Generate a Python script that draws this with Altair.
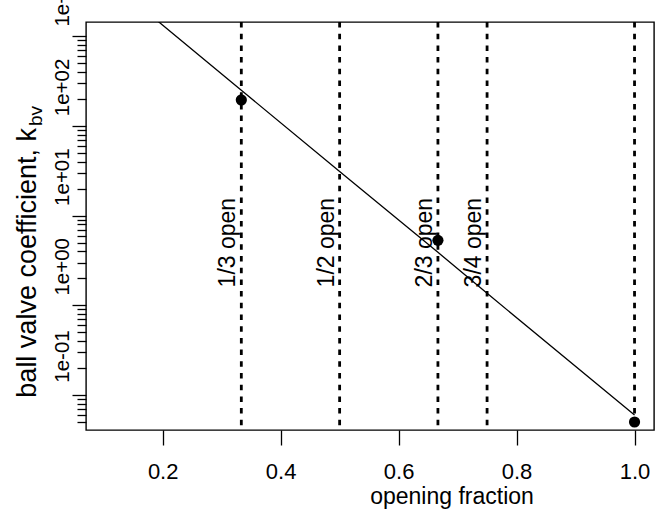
import altair as alt
import pandas as pd

# ---- data ----
frac_points = [1/3, 2/3, 1.0]
k_points = [195, 5.3, 0.05]

line_frac = [0.18, 1/3, 0.5, 2/3, 0.75, 1.0]
line_k = [1710, 250, 31, 3.9, 1.36, 0.06]

vline_frac = [1/3, 1/2, 2/3, 3/4, 1.0]

label_frac = [1/3, 1/2, 2/3, 3/4]
label_k = [5, 5, 5, 5]
label_text = ["1/3 open", "1/2 open", "2/3 open", "3/4 open"]

x_ticks = [0.2, 0.4, 0.6, 0.8, 1.0]
y_major = [0.1, 1, 10, 100, 1000]
y_major_labels = ["1e-01", "1e+00", "1e+01", "1e+02", "1e+03"]
y_minor = [0.05, 0.06, 0.07, 0.08, 0.09,
           0.2, 0.3, 0.4, 0.5, 0.6, 0.7, 0.8, 0.9,
           2, 3, 4, 5, 6, 7, 8, 9,
           20, 30, 40, 50, 60, 70, 80, 90,
           200, 300, 400, 500, 600, 700, 800, 900]

x_domain = [0.070, 1.033]
y_domain = [0.0407, 1443]

FONT = "Liberation Sans"
FS = 22
W, H = 568, 408

points_df = pd.DataFrame({"frac": frac_points, "k": k_points})
line_df = pd.DataFrame({"frac": line_frac, "k": line_k})
vline_df = pd.DataFrame({"frac": vline_frac})
label_df = pd.DataFrame({"frac": label_frac, "k": label_k, "txt": label_text})

xs = alt.Scale(domain=x_domain, nice=False, zero=False)
ys = alt.Scale(type="log", domain=y_domain, nice=False)

major_test = "indexof([" + ",".join(str(v) for v in y_major) + "], datum.value) >= 0"
label_expr = " : ".join(f"datum.value == {v} ? '{l}'" for v, l in zip(y_major, y_major_labels)) + " : ''"

x_axis = alt.Axis(values=x_ticks, format=".1f", title=None, grid=False, domain=False,
                  tickSize=15, tickColor="black", tickWidth=1.3,
                  labelFont=FONT, labelFontSize=FS, labelColor="black",
                  labelBaseline="alphabetic", labelPadding=33, labelFlush=False,
                  labelOverlap=False)

y_axis = alt.Axis(values=sorted(y_major + y_minor), labelExpr=label_expr, title=None,
                  grid=False, domain=False,
                  tickSize={"condition": {"test": major_test, "value": 14}, "value": 9},
                  tickColor="black", tickWidth=1.3,
                  labelFont=FONT, labelFontSize=20.5, labelColor="black",
                  labelAngle=270, labelAlign="center", labelBaseline="alphabetic",
                  labelOffset=-39, labelPadding=4, labelOverlap=False, labelFlush=False)

base_x = alt.X("frac:Q", scale=xs, axis=x_axis)
base_y = alt.Y("k:Q", scale=ys, axis=y_axis)

line = alt.Chart(line_df).mark_line(color="black", strokeWidth=1.3, clip=True).encode(
    x=base_x, y=base_y)

vlines = alt.Chart(vline_df).mark_rule(color="black", strokeWidth=2.8,
                                       strokeDash=[5.5, 6.2]).encode(
    x=alt.X("frac:Q", scale=xs), y=alt.value(0), y2=alt.value(H))

pts = alt.Chart(points_df).mark_point(filled=True, shape="circle", size=125,
                                      color="black", opacity=1).encode(
    x=alt.X("frac:Q", scale=xs), y=alt.Y("k:Q", scale=ys))

labels = alt.Chart(label_df).mark_text(angle=270, align="center", baseline="alphabetic",
                                       dy=-6, font=FONT, fontSize=23, color="black").encode(
    x=alt.X("frac:Q", scale=xs), y=alt.Y("k:Q", scale=ys), text="txt:N")

xtitle = alt.Chart(pd.DataFrame({"t": ["opening fraction"]})).mark_text(
    align="center", baseline="alphabetic", font=FONT, fontSize=23, color="black").encode(
    x=alt.value(366), y=alt.value(74 + H), text="t:N")

ytitle = alt.Chart(pd.DataFrame({"t": ["ball valve coefficient, k"]})).mark_text(
    angle=270, align="right", baseline="alphabetic", font=FONT, fontSize=27,
    color="black").encode(x=alt.value(-50), y=alt.value(106), text="t:N")

ysub = alt.Chart(pd.DataFrame({"t": ["bv"]})).mark_text(
    angle=270, align="left", baseline="alphabetic", font=FONT, fontSize=19,
    color="black").encode(x=alt.value(-44), y=alt.value(104), text="t:N")

chart = alt.layer(line, vlines, pts, labels, xtitle, ytitle, ysub).properties(
    width=W, height=H,
    autosize=alt.AutoSizeParams(type="none"),
    padding={"left": 86, "top": 22, "right": 15, "bottom": 82},
    background="white",
).configure_view(stroke="black", strokeWidth=1.4)

chart.save("out.html", embed_options={"renderer": "svg", "actions": False})
